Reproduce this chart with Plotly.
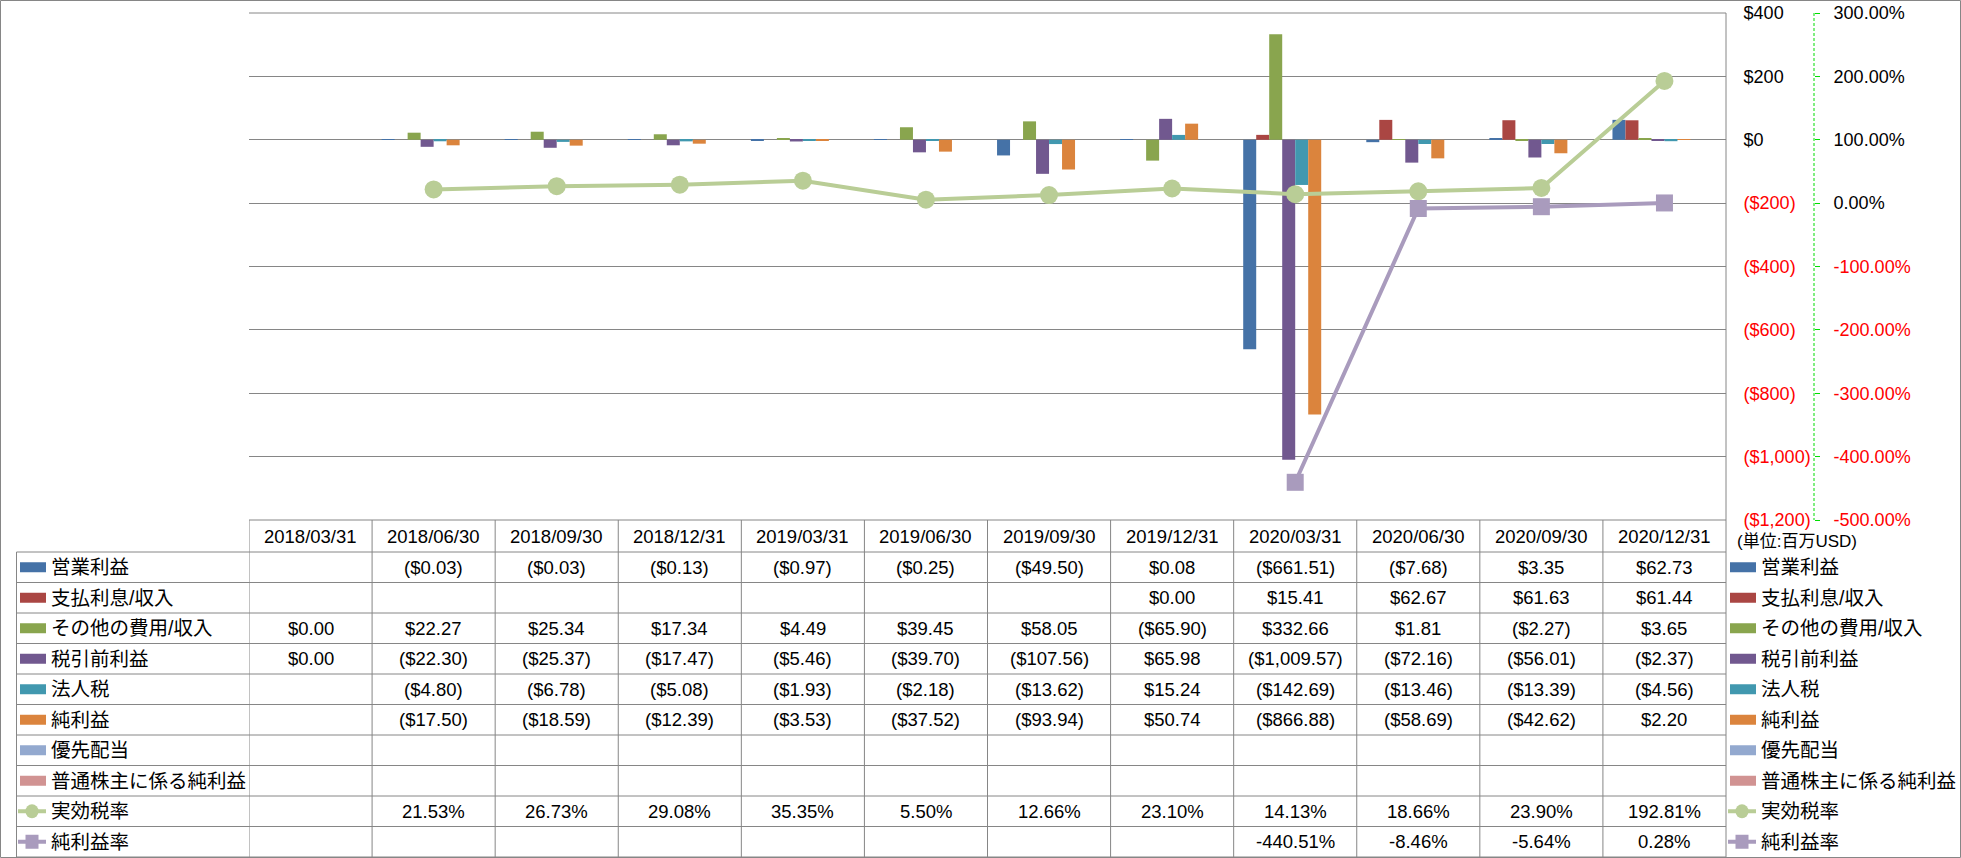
import plotly.graph_objects as go

W, H = 1961, 858

# ---------------- data ----------------
dates = ["2018/03/31", "2018/06/30", "2018/09/30", "2018/12/31", "2019/03/31", "2019/06/30",
         "2019/09/30", "2019/12/31", "2020/03/31", "2020/06/30", "2020/09/30", "2020/12/31"]

operating_income = [None, -0.03, -0.03, -0.13, -0.97, -0.25, -49.50, 0.08, -661.51, -7.68, 3.35, 62.73]
interest = [None, None, None, None, None, None, None, 0.00, 15.41, 62.67, 61.63, 61.44]
other_expense = [0.00, 22.27, 25.34, 17.34, 4.49, 39.45, 58.05, -65.90, 332.66, 1.81, -2.27, 3.65]
pretax_income = [0.00, -22.30, -25.37, -17.47, -5.46, -39.70, -107.56, 65.98, -1009.57, -72.16, -56.01, -2.37]
income_tax = [None, -4.80, -6.78, -5.08, -1.93, -2.18, -13.62, 15.24, -142.69, -13.46, -13.39, -4.56]
net_income = [None, -17.50, -18.59, -12.39, -3.53, -37.52, -93.94, 50.74, -866.88, -58.69, -42.62, 2.20]
preferred_div = [None] * 12
net_income_common = [None] * 12
effective_tax_rate = [None, 21.53, 26.73, 29.08, 35.35, 5.50, 12.66, 23.10, 14.13, 18.66, 23.90, 192.81]
net_margin = [None, None, None, None, None, None, None, None, -440.51, -8.46, -5.64, 0.28]

bar_names = ["営業利益", "支払利息/収入", "その他の費用/収入", "税引前利益", "法人税", "純利益",
             "優先配当", "普通株主に係る純利益"]
bar_values = [operating_income, interest, other_expense, pretax_income, income_tax, net_income,
              preferred_div, net_income_common]
bar_colors = ["#4572A7", "#AA4643", "#89A54E", "#71588F", "#4198AF", "#DB843D", "#93A9CF", "#D19392"]

line_names = ["実効税率", "純利益率"]
line_values = [effective_tax_rate, net_margin]
line_colors = ["#B9CD96", "#A99BBD"]
line_symbols = ["circle", "square"]

usd_ticks = [-1200, -1000, -800, -600, -400, -200, 0, 200, 400]
pct_ticks = [-500, -400, -300, -200, -100, 0, 100, 200, 300]

FONT = "Liberation Sans, Noto Sans CJK JP, sans-serif"
GRID = "#868686"


def fx(p):
    return p / W


def fy(p):
    return 1 - p / H


def fmt_usd(v):
    if v is None:
        return ""
    s = "${:,.2f}".format(abs(v))
    return "(" + s + ")" if v < 0 else s


def fmt_pct(v):
    if v is None:
        return ""
    return "{:.2f}%".format(v)


def usd_tick(v):
    s = "${:,.0f}".format(abs(v))
    if v < 0:
        return '<span style="color:#FF0000">(' + s + ')</span>'
    return s


def pct_tick(v):
    s = "{:.2f}%".format(v)
    if v < 0:
        return '<span style="color:#FF0000">' + s + '</span>'
    return s


# ---------------- layout geometry (pixels) ----------------
PX0, PX1 = 249, 1726      # plot area x
PY0, PY1 = 13, 520        # plot area y
Y2X = 1814                # secondary axis x
ROW_TOP = 552
ROW_H = 30.5
N_ROWS = 10
TBL_LEFT = 16.5
BOTTOM = 857

fig = go.Figure()

n = len(bar_names)
slot = 13.0 / ((PX1 - PX0) / 12.0)
start = -slot * n / 2
for i, (name, vals, col) in enumerate(zip(bar_names, bar_values, bar_colors)):
    fig.add_trace(go.Bar(
        x=dates, y=vals, name=name, width=slot, offset=start + i * slot,
        marker=dict(color=col, line=dict(width=0)), yaxis="y", hoverinfo="x+y+name"))

for name, vals, col, sym in zip(line_names, line_values, line_colors, line_symbols):
    fig.add_trace(go.Scatter(
        x=dates, y=vals, name=name, yaxis="y2", mode="lines+markers",
        line=dict(color=col, width=4),
        marker=dict(symbol=sym, size=18 if sym == "circle" else 17, color=col, line=dict(width=0))))

shapes = []
annotations = []


def hline(y, x0, x1, color=GRID, width=1):
    shapes.append(dict(type="line", xref="paper", yref="paper", x0=fx(x0), x1=fx(x1), y0=fy(y), y1=fy(y),
                       line=dict(color=color, width=width), layer="above"))


def vline(x, y0, y1, color=GRID, width=1, dash=None):
    ln = dict(color=color, width=width)
    if dash:
        ln["dash"] = dash
    shapes.append(dict(type="line", xref="paper", yref="paper", x0=fx(x), x1=fx(x), y0=fy(y0), y1=fy(y1),
                       line=ln, layer="above"))


# outer border
shapes.append(dict(type="rect", xref="paper", yref="paper", x0=fx(0.5), x1=fx(1960.5), y0=fy(857.5), y1=fy(0.5),
                   line=dict(color=GRID, width=1), fillcolor="rgba(0,0,0,0)"))

# plot top / bottom lines, right edge
hline(PY0, PX0, PX1)
hline(PY1, PX0, PX1)
vline(PX1, PY0, BOTTOM)
# secondary axis dashed line
vline(Y2X, PY0, PY1, color="#00DD00", width=1, dash="3px,2px")

# table grid
row_edges = [ROW_TOP + k * ROW_H for k in range(N_ROWS + 1)]
for y in row_edges:
    hline(y, TBL_LEFT, PX1)
vline(TBL_LEFT, ROW_TOP, BOTTOM)
for k in range(len(dates)):
    shapes.append(dict(type="line", xref="x", yref="paper", x0=k - 0.5, x1=k - 0.5,
                       y0=fy(PY1), y1=fy(BOTTOM), line=dict(color=GRID, width=1), layer="above"))

# header dates
for d in dates:
    annotations.append(dict(x=d, xref="x", y=fy((PY1 + ROW_TOP) / 2), yref="paper", text=d,
                            showarrow=False, xanchor="center", yanchor="middle",
                            font=dict(family=FONT, size=18.5, color="black")))

# table rows
row_names = bar_names + line_names
row_values = bar_values + line_values
row_fmt = [fmt_usd] * len(bar_names) + [fmt_pct] * len(line_names)
row_kind = ["bar"] * len(bar_names) + ["circle", "square"]
row_colors = bar_colors + line_colors

for r, (name, vals, f, kind, col) in enumerate(zip(row_names, row_values, row_fmt, row_kind, row_colors)):
    cy = ROW_TOP + ROW_H * (r + 0.5)
    for d, v in zip(dates, vals):
        t = f(v)
        if t:
            annotations.append(dict(x=d, xref="x", y=fy(cy), yref="paper", text=t, showarrow=False,
                                    xanchor="center", yanchor="middle",
                                    font=dict(family=FONT, size=18.5, color="black")))
    # legend keys: left (table) and right
    for kx0, tx in ((20, 49), (1730, 1759)):
        if kind == "bar":
            shapes.append(dict(type="rect", xref="paper", yref="paper", x0=fx(kx0), x1=fx(kx0 + 26),
                               y0=fy(cy + 5), y1=fy(cy - 5), line=dict(width=0), fillcolor=col, layer="above"))
        else:
            shapes.append(dict(type="line", xref="paper", yref="paper", x0=fx(kx0 - 2), x1=fx(kx0 + 26),
                               y0=fy(cy), y1=fy(cy), line=dict(color=col, width=4), layer="above"))
            mx = kx0 + 12
            shapes.append(dict(type="circle" if kind == "circle" else "rect", xref="paper", yref="paper",
                               x0=fx(mx - 6.5), x1=fx(mx + 6.5), y0=fy(cy + 7), y1=fy(cy - 7),
                               line=dict(width=0), fillcolor=col, layer="above"))
        annotations.append(dict(x=fx(tx), xref="paper", y=fy(cy), yref="paper", text=name, showarrow=False,
                                xanchor="left", yanchor="middle",
                                font=dict(family=FONT, size=19.5, color="black")))

# unit label
annotations.append(dict(x=fx(1735), xref="paper", y=fy(541), yref="paper", text="(単位:百万USD)",
                        showarrow=False, xanchor="left", yanchor="middle",
                        font=dict(family=FONT, size=17, color="black")))

fig.update_layout(
    template="none",
    width=W, height=H, autosize=False,
    margin=dict(l=0, r=0, t=0, b=0, pad=0, autoexpand=False),
    paper_bgcolor="white", plot_bgcolor="white",
    showlegend=False, barmode="overlay",
    font=dict(family=FONT, size=18, color="black"),
    xaxis=dict(domain=[fx(PX0), fx(PX1)], type="category", range=[-0.5, len(dates) - 0.5], automargin=False,
               showticklabels=False, showgrid=False, zeroline=False, showline=False, ticks=""),
    yaxis=dict(domain=[fy(PY1), fy(PY0)], range=[-1200, 400], side="right", automargin=False,
               tickvals=usd_ticks, ticktext=[usd_tick(v) for v in usd_ticks],
               showgrid=True, gridcolor=GRID, gridwidth=1, zeroline=False, showline=False,
               ticks="outside", ticklen=11, tickcolor="rgba(0,0,0,0)", ticklabelstandoff=2,
               tickfont=dict(family=FONT, size=18, color="black")),
    yaxis2=dict(overlaying="y", side="right", anchor="free", position=fx(Y2X), range=[-500, 300],
                automargin=False,
                tickvals=pct_ticks, ticktext=[pct_tick(v) for v in pct_ticks],
                showgrid=False, zeroline=False, showline=False,
                ticks="outside", ticklen=5, tickcolor="#00DD00", tickwidth=1, ticklabelstandoff=10,
                tickfont=dict(family=FONT, size=18, color="black")),
    shapes=shapes, annotations=annotations,
)

fig.write_html("out.html", config={"displayModeBar": False},
               post_script="document.body.style.margin='0';")
